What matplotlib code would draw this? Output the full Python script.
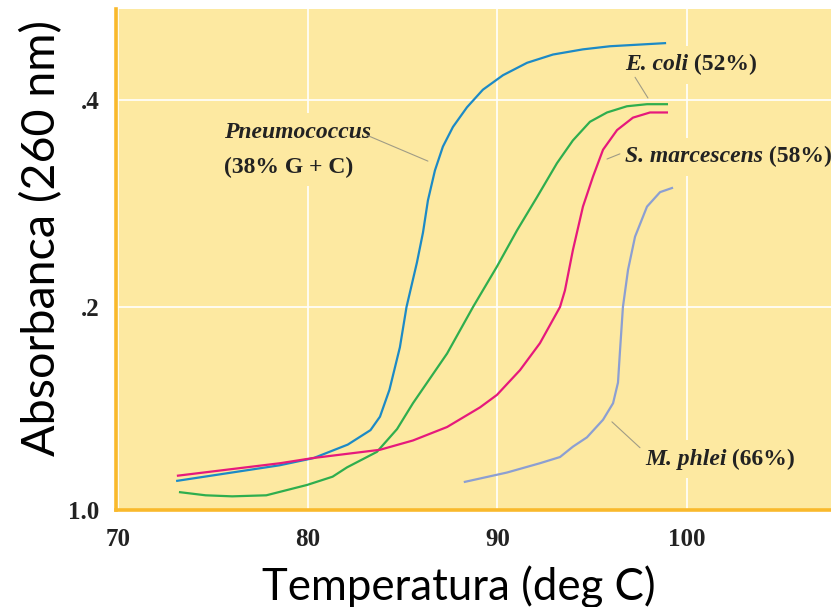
import matplotlib.pyplot as plt

# melting curves (temperature in deg C, absorbance)
temp_pneumo = [73.1, 78.5, 80.3, 82.1, 83.3, 83.8, 84.3, 84.85, 85.2, 85.75, 86.07,
               86.33, 86.7, 87.12, 87.65, 88.39, 89.23, 90.29, 91.56, 92.93, 94.51,
               95.94, 98.84]
abs_pneumo = [0.032, 0.047, 0.054, 0.067, 0.081, 0.094, 0.120, 0.161, 0.200, 0.243, 0.272,
              0.303, 0.332, 0.355, 0.374, 0.393, 0.410, 0.424, 0.436, 0.444, 0.449,
              0.452, 0.455]

temp_ecoli = [73.25, 74.6, 76.0, 77.8, 79.95, 81.3, 82.06, 83.64, 84.7, 85.54, 87.34,
              88.71, 89.97, 91.03, 92.08, 93.14, 93.98, 94.88, 95.78, 96.83, 97.89, 98.94]
abs_ecoli = [0.021, 0.018, 0.017, 0.018, 0.028, 0.036, 0.045, 0.060, 0.082, 0.107, 0.155,
             0.200, 0.239, 0.274, 0.306, 0.339, 0.361, 0.379, 0.388, 0.394, 0.396, 0.396]

temp_smarc = [73.14, 78.52, 80.26, 83.8, 85.54, 87.34, 89.08, 89.97, 91.19, 92.24, 93.3,
              93.56, 93.98, 94.51, 95.04, 95.57, 96.31, 97.15, 98.05, 98.94]
abs_smarc = [0.037, 0.049, 0.054, 0.062, 0.071, 0.084, 0.103, 0.115, 0.139, 0.165, 0.200,
             0.216, 0.255, 0.297, 0.326, 0.352, 0.371, 0.383, 0.388, 0.388]

temp_mphlei = [88.28, 90.5, 92.24, 93.3, 93.98, 94.72, 95.57, 96.1, 96.36, 96.46, 96.62,
               96.89, 97.26, 97.89, 98.58, 99.21]
abs_mphlei = [0.031, 0.040, 0.049, 0.055, 0.065, 0.074, 0.091, 0.107, 0.127, 0.156, 0.200,
              0.236, 0.268, 0.297, 0.311, 0.315]

x_ticks = [70, 80, 90, 100]
y_ticks = [0.0038, 0.2, 0.4]
y_tick_labels = ['1.0', '.2', '.4']

bg = '#fde9a1'
edge = '#f9b92c'
W, H = 831, 607

fig = plt.figure(figsize=(8.31, 6.07), dpi=100)
ax = fig.add_axes([116 / W, 97 / H, 1 - 116 / W, 501 / H])
ax.set_facecolor(bg)

ax.plot(temp_pneumo, abs_pneumo, color='#1c8ac6', lw=1.6, zorder=4)
ax.plot(temp_ecoli, abs_ecoli, color='#2fae4e', lw=1.6, zorder=4)
ax.plot(temp_smarc, abs_smarc, color='#e6197c', lw=1.6, zorder=4)
ax.plot(temp_mphlei, abs_mphlei, color='#8c9fd2', lw=1.6, zorder=4)

ax.set_xlim(69.87, 107.6)
ax.set_ylim(0.0038, 0.488)
ax.set_xticks(x_ticks)
ax.set_yticks(y_ticks)
ax.set_yticklabels(y_tick_labels)
ax.set_axisbelow(True)
ax.grid(True, color='white', lw=1.2)
ax.tick_params(length=0, labelsize=18, colors='#222222')
ax.tick_params(axis='x', pad=13)
ax.tick_params(axis='y', pad=12)
for lab in ax.get_xticklabels() + ax.get_yticklabels():
    lab.set_fontfamily('Liberation Serif')
    lab.set_fontweight('bold')

for side in ['top', 'right']:
    ax.spines[side].set_visible(False)
for side in ['left', 'bottom']:
    ax.spines[side].set_color(edge)
    ax.spines[side].set_linewidth(2.6)

# curve labels
name_style = dict(family='Liberation Serif', style='italic', weight='bold',
                  size=17, color='#222222', va='center', zorder=3)
pct_style = dict(family='Liberation Serif', weight='bold', size=17,
                 color='#222222', va='bottom', zorder=3)
box = dict(fc=bg, ec='none', pad=6)

ax.text(75.58, 0.369, 'Pneumococcus', bbox=box, **name_style)
ax.text(75.58, 0.335, '(38% G + C)', bbox=box, family='Liberation Serif', weight='bold',
        size=17, color='#222222', va='center', zorder=3)

labels = [('E. coli', ' (52%)', 96.73, 0.434),
          ('S. marcescens', ' (58%)', 96.73, 0.345),
          ('M. phlei', ' (66%)', 97.78, 0.053)]
for name, pct, tx, ty in labels:
    t = ax.text(tx, ty, name, bbox=box, **name_style)
    ax.annotate(pct, xy=(1, 0), xycoords=t, **pct_style)

# leader lines
leaders = [((83.11, 0.366), (86.33, 0.341)),
           ((97.26, 0.422), (97.94, 0.402)),
           ((95.78, 0.343), (96.46, 0.348)),
           ((96.04, 0.089), (97.52, 0.064))]
for a, b in leaders:
    ax.annotate('', xy=b, xytext=a, zorder=3,
                arrowprops=dict(arrowstyle='-', color='#a09c86', lw=0.8,
                                shrinkA=0, shrinkB=0))

fig.text(55 / W, 1 - 237.5 / H, 'Absorbanca (260 nm)', rotation=90, rotation_mode='anchor',
         ha='center', va='baseline', family='Lato', size=33.6, color='black')
fig.text(459 / W, 1 - 600 / H, 'Temperatura (deg C)', ha='center', va='baseline',
         family='Lato', size=31.5, color='black')

fig.savefig('out.png', dpi=100)
